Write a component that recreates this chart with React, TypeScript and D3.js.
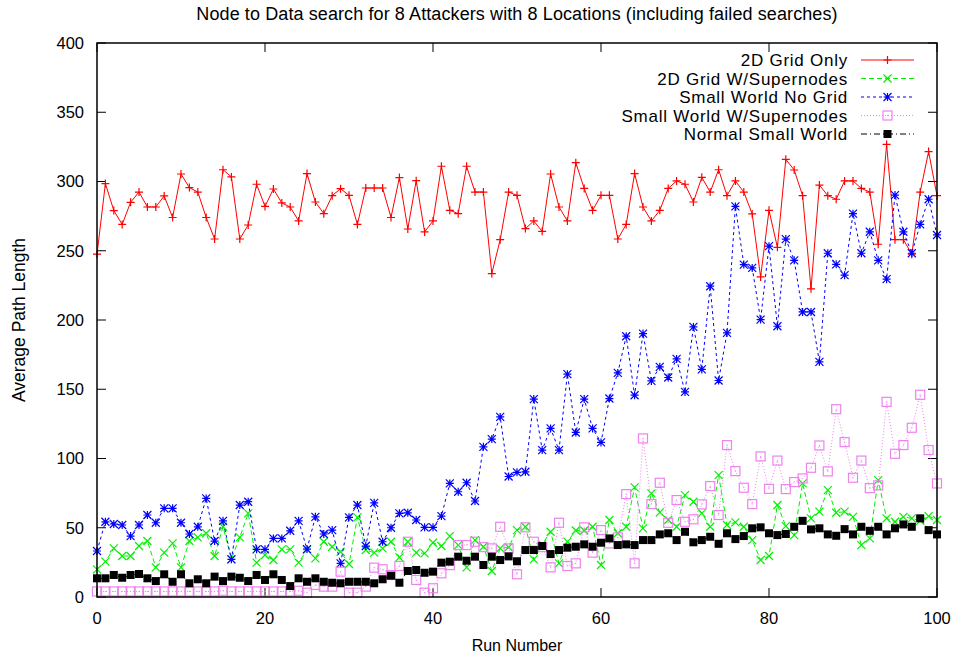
import React from "react";
import * as d3 from "d3";

// Run index 0..100
const runNumbers: number[] = d3.range(0, 101);

const gridOnly: number[] = [
  247.5, 298.5, 279, 269, 285, 292.4, 281.6, 281.6, 289.6, 274,
  305.4, 295.6, 292.4, 274, 258.5, 308.5, 303.3, 258.5, 268.6, 298,
  282, 294.6, 284.5, 281.6, 271.5, 305.7, 285.2, 276.8, 289.8, 294.8,
  290, 269, 295.3, 295.3, 295.3, 274, 302.8, 265.7, 300.6, 263.6,
  271.5, 311, 279.2, 276.8, 311, 292.4, 292.4, 233.5, 258, 292.4,
  290, 266, 271.5, 264, 305.4, 281.6, 271.5, 313.6, 295, 279.2,
  290, 290, 258.5, 269, 305.7, 281.6, 271.5, 279.2, 295, 300.4,
  298, 285.2, 303, 292.4, 308.5, 289.8, 300.4, 292.4, 276.6, 231.1,
  279.2, 252.5, 316, 308.3, 289.8, 222.5, 297.4, 289.8, 287.2, 300.4,
  300.4, 295, 292.4, 254.7, 326.8, 258, 258, 247.5, 292.4, 321.6, 289.8,
];

const gridSupernodes: number[] = [
  20, 25.5, 35.1, 29.6, 29.6, 36.8, 40.4, 21.4, 32, 38.7,
  21.4, 40.4, 43.1, 46, 29.6, 50.7, 27.4, 43.1, 60.4, 24.8,
  30.3, 26.7, 34.4, 34.4, 24.8, 34, 27.9, 39.9, 36.3, 32.7,
  23.8, 57.5, 33.9, 32, 35.1, 39.9, 28.6, 39.9, 32, 31.5,
  39.2, 36.8, 44, 37.5, 21.4, 41.1, 36.3, 18.8, 35.1, 35.9,
  48.3, 50.7, 27.2, 38, 47.1, 24.3, 40, 48, 48, 50.7,
  23.1, 55.6, 46, 50.7, 79.1, 49.6, 74.8, 61.1, 55.6, 50.7,
  73.6, 68.8, 60.4, 50.7, 88, 52, 53.9, 50.7, 41.1, 26.7,
  29.6, 66.4, 51.2, 44.7, 82, 56.8, 61.6, 77.2, 60.8, 61.6,
  57.9, 37.5, 42.3, 84.4, 56.8, 54.3, 57.9, 56.8, 55, 58.4, 55.6,
];

const smallWorldNoGrid: number[] = [
  33.2, 54.3, 52.7, 52, 44, 52, 59.2, 53.6, 64, 64,
  53.6, 45.5, 50.7, 71.2, 40.4, 55, 27.2, 66.4, 68.8, 34.4,
  34.4, 42.3, 42.3, 47.8, 55, 34.6, 57.9, 45.5, 48.3, 24.3,
  57.5, 66.4, 36.8, 68, 39.9, 50, 60.4, 60.8, 55.6, 50.3,
  50.3, 58.4, 82, 76, 82.5, 69.3, 108.4, 114, 130, 87,
  90, 90.4, 142.9, 106.1, 121.7, 106.1, 160.9, 118.8, 142.9, 121.7,
  111.6, 143.3, 161.8, 188.3, 145.7, 190.2, 156, 166.2, 158.5, 171.9,
  148.1, 195, 164.3, 224.4, 156.3, 190.7, 282, 240, 237.6, 200.3,
  253.3, 195.5, 258.4, 243.1, 205.8, 205.8, 169.8, 248.2, 240.2, 232.4,
  276.8, 248.2, 263.7, 243.1, 229.5, 290.2, 263.7, 248.2, 269, 287.2, 261.4,
];

const smallWorldSupernodes: number[] = [
  4, 4, 4, 4, 4, 4, 4, 4, 4, 4,
  4, 4, 4, 4, 4, 4.5, 4, 4, 4, 4,
  4, 4, 4, 4, 4.5, 3.1, 8.7, 7.5, 7.5, 18.3,
  3.1, 3.1, 7.5, 21.2, 20, 15.9, 22.4, 39.9, 12.3, 3.1,
  6.3, 17.1, 23, 37.5, 37.5, 39.9, 36, 35.1, 50.7, 35.1,
  16.4, 50.3, 39.9, 36, 21.4, 53.6, 22.4, 24.3, 50.3, 32,
  48.3, 38.7, 43, 74.3, 24.3, 114.5, 67.1, 82.5, 53.6, 70,
  54.3, 56.1, 66.9, 80.1, 59.2, 109.7, 90.9, 78.9, 67.1, 101.5,
  78.1, 98.5, 77.9, 83, 85.6, 93.3, 109.4, 90.7, 135.6, 111.8,
  86.1, 98.5, 78.6, 80.6, 140.9, 103.4, 109.7, 122.2, 146, 106.1, 82,
];

const normalSmallWorld: number[] = [
  13.5, 13.5, 15.9, 13.9, 15.9, 16.6, 13.5, 11.5, 16.4, 11,
  16.4, 9.9, 12.8, 9.9, 14.7, 11.5, 14.7, 13.9, 11.5, 15.9,
  12.3, 16.4, 12.3, 7.9, 13.5, 11, 13.5, 11, 10.3, 9.9,
  11, 11, 11, 9.9, 12.8, 15.4, 10.3, 18.8, 19.5, 17.5,
  18.3, 24.8, 25.5, 29.1, 26.2, 29.1, 23.1, 29.1, 26.7, 29.3,
  25.8, 33.9, 33.9, 36.8, 31, 33.9, 35.6, 36.3, 38, 36.3,
  39.2, 42.3, 37.5, 38, 37.5, 41.1, 41.1, 45.2, 46, 41.1,
  47.1, 39.5, 41.1, 43.5, 38.4, 46, 41.8, 44, 49.6, 50.3,
  46, 44.7, 45.5, 50.7, 55, 48.8, 49.6, 45.2, 44.2, 49,
  45.2, 50.7, 47.8, 50.7, 45.2, 49.6, 52.4, 50.7, 56.8, 48.3, 45.2,
];

const seriesNames: string[] = [
  "2D Grid Only",
  "2D Grid W/Supernodes",
  "Small World No Grid",
  "Small World W/Supernodes",
  "Normal Small World",
];

const xTicks: number[] = [0, 20, 40, 60, 80, 100];
const yTicks: number[] = [0, 50, 100, 150, 200, 250, 300, 350, 400];

const titleText = "Node to Data search for 8 Attackers with 8 Locations (including failed searches)";
const xLabel = "Run Number";
const yLabel = "Average Path Length";

type MarkerKind = "plus" | "cross" | "star" | "openSquare" | "filledSquare";

interface Series {
  name: string;
  values: number[];
  color: string;
  dash: string;
  marker: MarkerKind;
}

const series: Series[] = [
  { name: seriesNames[0], values: gridOnly, color: "#ff0000", dash: "none", marker: "plus" },
  { name: seriesNames[1], values: gridSupernodes, color: "#00f000", dash: "5,3", marker: "cross" },
  { name: seriesNames[2], values: smallWorldNoGrid, color: "#0000ff", dash: "3,3", marker: "star" },
  { name: seriesNames[3], values: smallWorldSupernodes, color: "#ee82ee", dash: "1,2", marker: "openSquare" },
  { name: seriesNames[4], values: normalSmallWorld, color: "#000000", dash: "6,3,1,3", marker: "filledSquare" },
];

const W = 959;
const H = 658;
const margin = { left: 97, right: 22, top: 43, bottom: 61 };
const FONT = "'Liberation Sans', Arial, Helvetica, sans-serif";

function Marker({ kind, x, y, color }: { kind: MarkerKind; x: number; y: number; color: string }) {
  const s = 4;
  switch (kind) {
    case "plus":
      return <path d={`M${x - s},${y}H${x + s}M${x},${y - s}V${y + s}`} stroke={color} strokeWidth={1.2} fill="none" />;
    case "cross":
      return <path d={`M${x - s},${y - s}L${x + s},${y + s}M${x - s},${y + s}L${x + s},${y - s}`} stroke={color} strokeWidth={1.2} fill="none" />;
    case "star":
      return (
        <path
          d={`M${x - s},${y}H${x + s}M${x},${y - s}V${y + s}M${x - s},${y - s}L${x + s},${y + s}M${x - s},${y + s}L${x + s},${y - s}`}
          stroke={color}
          strokeWidth={1.2}
          fill="none"
        />
      );
    case "openSquare":
      return (
        <g>
          <rect x={x - 4.5} y={y - 4.5} width={9} height={9} stroke={color} strokeWidth={1.2} fill="none" />
          <rect x={x - 0.5} y={y - 0.5} width={1} height={1} fill={color} />
        </g>
      );
    case "filledSquare":
      return <rect x={x - 4} y={y - 4} width={8} height={8} fill={color} />;
  }
}

export default function App() {
  const x = d3.scaleLinear().domain([0, 100]).range([margin.left, W - margin.right]);
  const y = d3.scaleLinear().domain([0, 400]).range([H - margin.bottom, margin.top]);
  const x0 = x.range()[0];
  const x1 = x.range()[1];
  const y0 = y.range()[0];
  const y1 = y.range()[1];
  const tick = 9;

  const line = (vals: number[]) =>
    d3
      .line<number>()
      .x((_, i) => x(runNumbers[i]))
      .y((d) => y(d))(vals) || "";

  const legendRight = 848;
  const legendY0 = 60;
  const legendStep = 18.5;
  const sampleX0 = 861;
  const sampleX1 = 914;

  return (
    <svg width={W} height={H} style={{ position: "absolute", left: 0, top: 0, background: "#fff" }} fontFamily={FONT}>
      <rect x={0} y={0} width={W} height={H} fill="#fff" />
      {/* title */}
      <text x={(x0 + x1) / 2} y={20} textAnchor="middle" fontSize={18} letterSpacing={0.1} fill="#000">
        {titleText}
      </text>

      {/* ticks on all four sides */}
      {yTicks.map((t) => (
        <g key={"y" + t}>
          <line x1={x0} x2={x0 + tick} y1={y(t)} y2={y(t)} stroke="#000" />
          <line x1={x1} x2={x1 - tick} y1={y(t)} y2={y(t)} stroke="#000" />
          <text x={x0 - 13} y={y(t)} dy="0.36em" textAnchor="end" fontSize={16.5} fill="#000">
            {t}
          </text>
        </g>
      ))}
      {xTicks.map((t) => (
        <g key={"x" + t}>
          <line x1={x(t)} x2={x(t)} y1={y0} y2={y0 - tick} stroke="#000" />
          <line x1={x(t)} x2={x(t)} y1={y1} y2={y1 + tick} stroke="#000" />
          <text x={x(t)} y={y0 + 21} dy="0.36em" textAnchor="middle" fontSize={16.5} fill="#000">
            {t}
          </text>
        </g>
      ))}

      {/* axis labels */}
      <text x={(x0 + x1) / 2} y={651} textAnchor="middle" fontSize={16} fill="#000">
        {xLabel}
      </text>
      <text
        transform={`translate(25,${(y0 + y1) / 2}) rotate(-90)`}
        textAnchor="middle"
        fontSize={17.5}
        fill="#000"
      >
        {yLabel}
      </text>

      {/* data */}
      {series.map((s) => (
        <g key={s.name}>
          <path d={line(s.values)} fill="none" stroke={s.color} strokeWidth={1} strokeDasharray={s.dash} />
          {s.values.map((v, i) => (
            <Marker key={i} kind={s.marker} x={x(runNumbers[i])} y={y(v)} color={s.color} />
          ))}
        </g>
      ))}

      {/* legend */}
      {series.map((s, k) => {
        const ly = legendY0 + k * legendStep;
        return (
          <g key={"lg" + s.name}>
            <text x={legendRight} y={ly} dy="0.36em" textAnchor="end" fontSize={17} letterSpacing={0.75} fill="#000">
              {s.name}
            </text>
            <line x1={sampleX0} x2={sampleX1} y1={ly} y2={ly} stroke={s.color} strokeDasharray={s.dash} />
            <Marker kind={s.marker} x={(sampleX0 + sampleX1) / 2} y={ly} color={s.color} />
          </g>
        );
      })}

      {/* frame */}
      <rect x={x0} y={y1} width={x1 - x0} height={y0 - y1} fill="none" stroke="#000" strokeWidth={1.5} />
    </svg>
  );
}
